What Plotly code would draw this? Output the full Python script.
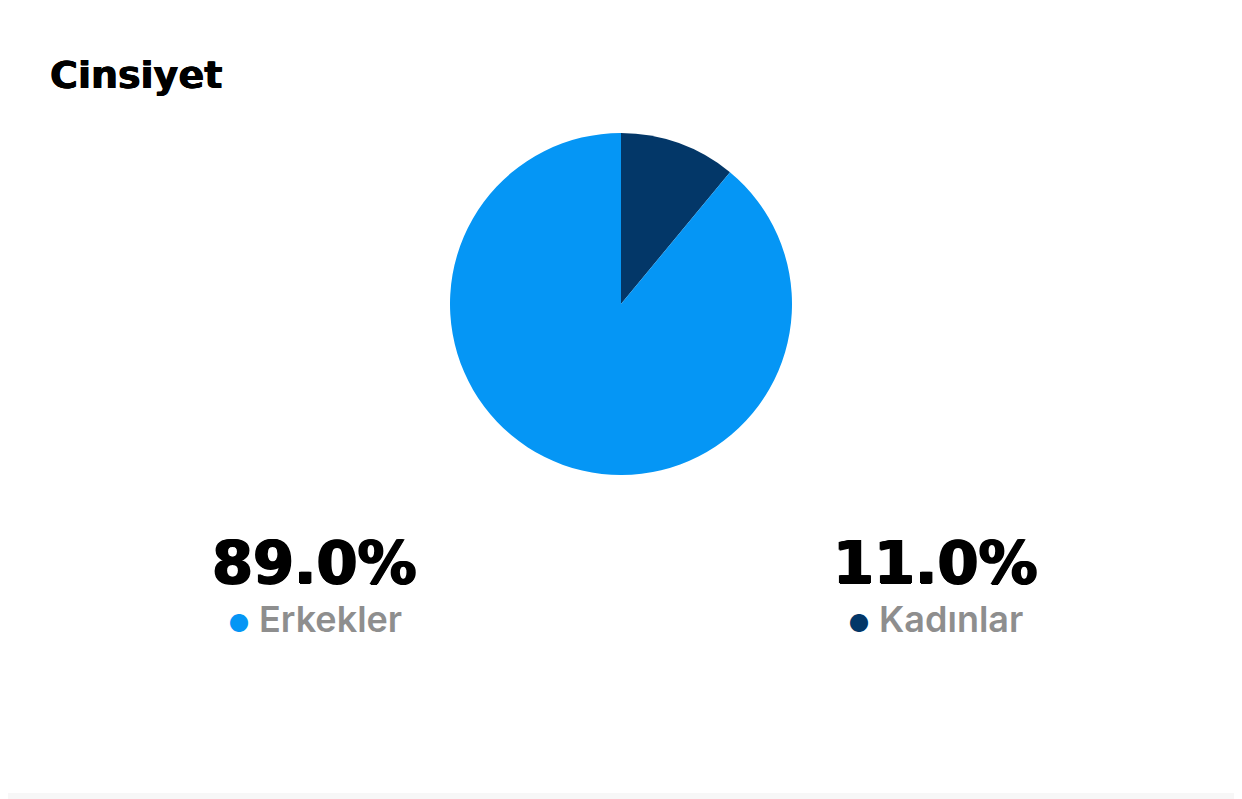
import plotly.graph_objects as go

title = "Cinsiyet"
categories = ["Erkekler", "Kadınlar"]
values = [89.0, 11.0]
colors = ["#0596F5", "#033768"]

# page body has an 8px margin; work in page coordinates and shift
OFF = 8
W, H = 1242 - 2 * OFF, 799 - OFF


def px(x):
    return (x - OFF) / W


def py(y):
    return 1 - (y - OFF) / H


fig = go.Figure()
fig.add_trace(go.Pie(
    labels=categories[::-1],
    values=values[::-1],
    marker=dict(colors=colors[::-1], line=dict(width=0)),
    sort=False,
    direction="clockwise",
    rotation=0,
    textinfo="none",
    hoverinfo="label+percent",
    showlegend=False,
    domain=dict(x=[px(450), px(792)], y=[py(475), py(133)]),
))

# title
fig.add_annotation(
    text=title, x=px(48), y=py(75), xref="paper", yref="paper",
    xanchor="left", yanchor="middle", showarrow=False,
    font=dict(family="DejaVu Sans", size=38, color="#000000", weight=700,
              shadow="0.5px 0 0 #000, -0.5px 0 0 #000"),
)

centers = [315, 935]
for cat, val, col, cx in zip(categories, values, colors, centers):
    fig.add_annotation(
        text="%.1f%%" % val, x=px(cx), y=py(562), xref="paper", yref="paper",
        xanchor="center", yanchor="middle", showarrow=False,
        font=dict(family="DejaVu Sans", size=59, color="#000000", weight=700,
                  shadow="1px 0 0 #000, -1px 0 0 #000, 0 1px 0 #000"),
    )
    fig.add_annotation(
        text='<span style="color:%s;font-size:24px">●</span> %s' % (col, cat),
        x=px(cx), y=py(619), xref="paper", yref="paper",
        xanchor="center", yanchor="middle", showarrow=False,
        font=dict(family="Inter", size=36, color="#8E8E8E", weight=600),
    )

fig.add_shape(type="rect", xref="paper", yref="paper", x0=0, x1=1, y0=0, y1=6 / H,
              fillcolor="#F7F7F7", line=dict(width=0), layer="below")

fig.update_layout(
    width=W, height=H,
    margin=dict(l=0, r=0, t=0, b=0),
    paper_bgcolor="#FFFFFF", plot_bgcolor="#FFFFFF",
)

fig.write_html("out.html")
